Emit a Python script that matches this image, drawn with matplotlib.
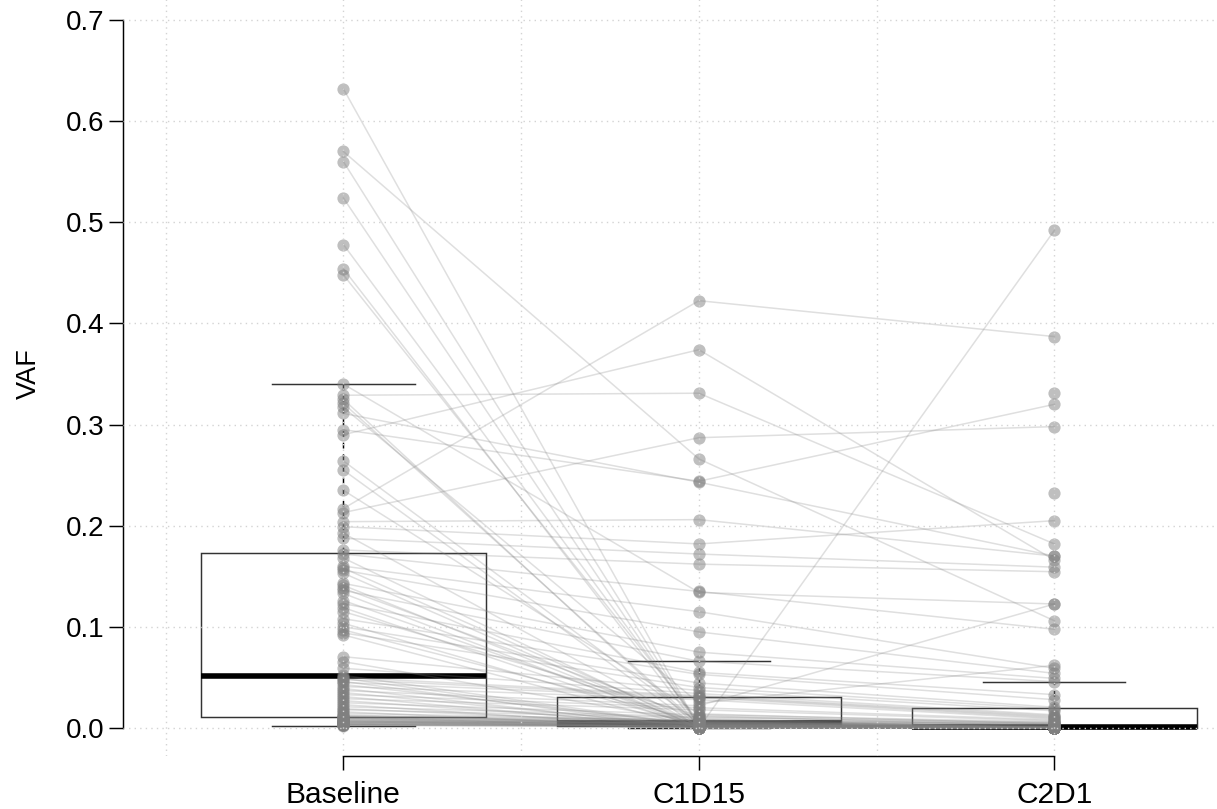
import numpy as np
import matplotlib
matplotlib.use('Agg')
import matplotlib.pyplot as plt

plt.rcParams['font.family'] = ['Liberation Sans', 'DejaVu Sans']

timepoints = ['Baseline', 'C1D15', 'C2D1']

# VAF per patient, one entry per patient in the same order in each list (nan = not sampled)
baseline = [0.632, 0.570, 0.560, 0.524, 0.478, 0.454, 0.448, 0.340, 0.329, 0.325,
            0.321, 0.317, 0.311, 0.295, 0.290, 0.264, 0.255, 0.235, 0.217, 0.213,
            0.204, 0.199, 0.1925, 0.1875, 0.176,
            0.172, 0.168, 0.160, 0.158, 0.156, 0.153, 0.143, 0.141, 0.138, 0.136,
            0.133, 0.126, 0.123, 0.119, 0.115, 0.108, 0.1035, 0.100, 0.097, 0.094,
            0.092, 0.0705, 0.0656, 0.059, 0.052,
            0.050, 0.049, 0.048, 0.046, 0.045, 0.043, 0.041, 0.039, 0.037, 0.035,
            0.033, 0.031, 0.029, 0.027, 0.025, 0.023, 0.021, 0.019, 0.018, 0.016,
            0.0145, 0.013, 0.012, 0.0115, 0.011,
            0.0105, 0.010, 0.0095, 0.009, 0.0085, 0.008, 0.0075, 0.007, 0.0068, 0.0065,
            0.006, 0.0058, 0.0055, 0.005, 0.0048, 0.0045, 0.004, 0.0038, 0.0035, 0.0033,
            0.003, 0.0028, 0.0026, 0.0025, 0.0023]

c1d15 = [0.0008, 0.266, 0.002, 0.001, 0.004, 0.0, 0.0065, 0.134, 0.331, 0.0,
         0.003, 0.0245, 0.243, 0.244, 0.374, 0.0047, 0.0, 0.014, 0.4225, 0.287,
         0.206, 0.182, 0.0015, 0.172, 0.162,
         0.135, 0.0, 0.115, 0.0026, 0.095, 0.0, 0.075, 0.0011, 0.009, 0.066,
         0.0, 0.0034, 0.055, 0.0, 0.012, 0.053, 0.0017, 0.0445, 0.007, 0.040,
         0.0, 0.037, 0.0056, 0.034, 0.0022,
         0.032, 0.0013, 0.031, 0.0, 0.030, 0.0038, 0.028, 0.0, 0.022, 0.0019,
         0.020, 0.0, 0.018, 0.0029, 0.013, 0.0, 0.011, 0.0041, 0.010, 0.0,
         0.0079, 0.0024, 0.008, 0.0, 0.0075,
         0.0062, 0.0, 0.0068, 0.0049, 0.006, 0.0, 0.0058, 0.0045, 0.0054, 0.0,
         0.0052, 0.0043, 0.0051, 0.004, 0.0036, 0.0032, 0.003, 0.0027, 0.0023, 0.002,
         0.0018, 0.0016, 0.0014, np.nan, np.nan]

c2d1 = [0.0, 0.106, 0.0, 0.0, 0.001, 0.0, 0.0002, 0.1226, 0.182, 0.0,
        0.0, 0.062, 0.170, 0.320, 0.166, 0.0, 0.0, 0.004, 0.387, 0.298,
        0.170, 0.205, 0.0, 0.159, 0.1545,
        0.0976, 0.0, 0.059, 0.0, 0.054, 0.0, 0.049, 0.0, 0.0, 0.0458,
        0.0, 0.0, 0.033, 0.0, 0.002, 0.028, 0.0, 0.0205, 0.001, 0.019,
        0.0, 0.017, 0.0006, 0.013, 0.0,
        0.012, 0.0, 0.011, 0.0, 0.010, 0.0, 0.009, 0.0, 0.1226, 0.0,
        0.008, 0.0, 0.007, 0.0, 0.006, 0.0, 0.0055, 0.0, 0.005, 0.0,
        0.0045, 0.0, 0.004, 0.0, 0.0035,
        0.003, 0.0, 0.0025, 0.0, 0.0018, 0.0, 0.0015, 0.0, 0.0012, 0.492,
        0.001, 0.0, 0.0008, 0.0, 0.0, 0.0005, 0.0, 0.0004, 0.0, 0.0003,
        0.0, 0.0002, 0.0, 0.331, 0.232]

data = np.array([baseline, c1d15, c2d1])
xpos = np.arange(1, 4)

fig = plt.figure(figsize=(12.17, 8.09), dpi=100)
ax = fig.add_axes([123 / 1217, 52.7 / 809, 1151.8 / 1217, 764.6 / 809])

# boxes without outliers, the points are drawn separately
cols = [d[~np.isnan(d)] for d in data]
ax.boxplot(cols, positions=xpos, widths=0.8, capwidths=0.4, showfliers=False,
           patch_artist=True, zorder=2,
           boxprops=dict(facecolor='white', edgecolor='#333333', linewidth=1.05),
           medianprops=dict(color='black', linewidth=4, solid_capstyle='butt'),
           whiskerprops=dict(color='black', linewidth=1.05, linestyle=(0, (4, 4))),
           capprops=dict(color='#333333', linewidth=1.05))

# one line per patient across the timepoints
for i in range(data.shape[1]):
    ax.plot(xpos, data[:, i], color='gray', alpha=0.25, linewidth=1.1, zorder=3)

for k in range(3):
    ax.plot(np.full(len(cols[k]), xpos[k]), cols[k], 'o', color='gray', alpha=0.5,
            markersize=8.8, markeredgewidth=0, zorder=4)

# dotted grid on top
for y in np.arange(0, 0.71, 0.1):
    ax.axhline(y, color='lightgray', linestyle=(0, (1, 3)), linewidth=1, zorder=5)
for x in np.arange(0.5, 3.6, 0.5):
    ax.axvline(x, color='lightgray', linestyle=(0, (1, 3)), linewidth=1, zorder=5)

ax.set_xlim(0.38, 3.62)
ax.set_ylim(-0.028, 0.728)

ax.spines['top'].set_visible(False)
ax.spines['right'].set_visible(False)
ax.spines['left'].set_bounds(0, 0.7)
ax.spines['bottom'].set_bounds(1, 3)
for s in ['left', 'bottom']:
    ax.spines[s].set_linewidth(1.05)

ax.set_yticks(np.arange(0, 0.71, 0.1))
ax.set_yticklabels(['%.1f' % v for v in np.arange(0, 0.71, 0.1)], fontsize=20)
ax.set_xticks(xpos)
ax.set_xticklabels(timepoints, fontsize=21.5)
ax.tick_params(axis='y', direction='out', length=10, width=1.05, pad=3.5)
ax.tick_params(axis='x', direction='out', length=10, width=1.05, pad=8)

ax.set_ylabel('VAF', fontsize=19.5)
ax.yaxis.label.set_va('center')
ax.yaxis.set_label_coords(-0.0815, 0.5)

fig.savefig('out.png', dpi=100)
